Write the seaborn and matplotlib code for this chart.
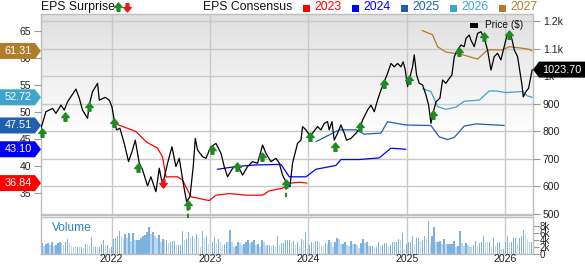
import numpy as np
import pandas as pd
import matplotlib
matplotlib.use("Agg")
import matplotlib.pyplot as plt
import seaborn as sns
from matplotlib.path import Path
from matplotlib.patches import Polygon, Rectangle
from matplotlib.lines import Line2D
from matplotlib.colors import LinearSegmentedColormap
import matplotlib.transforms as mtransforms

# ---------------- data ----------------
price_t = [2021.283, 2021.333, 2021.400, 2021.435, 2021.486, 2021.519, 2021.553, 2021.638, 2021.672, 2021.705,
           2021.756, 2021.773, 2021.807, 2021.858, 2021.875, 2021.936, 2021.977, 2022.004, 2022.027, 2022.051,
           2022.085, 2022.129, 2022.173, 2022.213, 2022.241, 2022.282, 2022.315, 2022.366, 2022.400, 2022.451,
           2022.485, 2022.518, 2022.569, 2022.614, 2022.654, 2022.688, 2022.729, 2022.762, 2022.797, 2022.830,
           2022.851, 2022.874, 2022.925, 2022.959, 2023.010, 2023.061, 2023.112, 2023.145, 2023.179, 2023.230,
           2023.280, 2023.331, 2023.382, 2023.433, 2023.484, 2023.535, 2023.569, 2023.620, 2023.671, 2023.704,
           2023.738, 2023.789, 2023.813, 2023.839, 2023.890, 2023.925, 2023.941, 2023.976, 2024.009, 2024.043,
           2024.093, 2024.128, 2024.162, 2024.195, 2024.212, 2024.240, 2024.263, 2024.297, 2024.331, 2024.365,
           2024.388, 2024.433, 2024.484, 2024.524, 2024.551, 2024.602, 2024.636, 2024.670, 2024.703, 2024.738,
           2024.771, 2024.805, 2024.839, 2024.873, 2024.907, 2024.941, 2024.964, 2024.985, 2025.008, 2025.033,
           2025.059, 2025.076, 2025.100, 2025.127, 2025.161, 2025.195, 2025.222, 2025.246, 2025.262, 2025.297,
           2025.337, 2025.364, 2025.398, 2025.432, 2025.459, 2025.483, 2025.516, 2025.551, 2025.584, 2025.602,
           2025.635, 2025.652, 2025.686, 2025.720, 2025.754, 2025.788, 2025.821, 2025.856, 2025.889, 2025.923,
           2025.957, 2025.991, 2026.024, 2026.059, 2026.093, 2026.126, 2026.150, 2026.171, 2026.184, 2026.211,
           2026.238, 2026.275]
price_v = [811, 871, 883, 865, 895, 877, 907, 953, 920, 877,
           847, 895, 944, 974, 913, 923, 913, 889, 841, 805,
           811, 756, 690, 732, 768, 684, 660, 602, 635, 581,
           666, 605, 684, 744, 672, 702, 611, 545, 563, 672,
           774, 732, 708, 702, 744, 756, 720, 672, 635, 666,
           678, 641, 672, 690, 684, 750, 720, 690, 702, 685,
           641, 605, 599, 684, 756, 768, 817, 805, 787, 793,
           817, 805, 829, 835, 805, 835, 768, 793, 823, 793,
           768, 774, 793, 811, 841, 877, 895, 871, 913, 950,
           980, 1010, 1046, 1034, 1046, 1034, 1052, 1022, 962, 998,
           1034, 1077, 1004, 974, 968, 932, 895, 829, 859, 907,
           920, 986, 974, 992, 1004, 1071, 1095, 1113, 1107, 1137,
           1149, 1131, 1107, 1155, 1161, 1137, 1095, 1022, 1071, 1083,
           1059, 1107, 1155, 1149, 1095, 1071, 1016, 968, 925, 944,
           956, 1023.70]

eps23_t = [2022.027, 2022.248, 2022.350, 2022.467, 2022.518, 2022.553, 2022.671, 2022.722, 2022.807, 2022.993,
           2023.061, 2023.196, 2023.366, 2023.535, 2023.603, 2023.738, 2023.806, 2023.908, 2023.986]
eps23_v = [47.9, 46.4, 44.5, 43.3, 41.7, 38.0, 38.0, 37.4, 34.3, 33.6,
           34.6, 34.9, 34.6, 34.6, 35.4, 35.9, 36.8, 37.0, 36.84]
eps24_t = [2023.077, 2023.264, 2023.467, 2023.722, 2023.806, 2023.976, 2024.077, 2024.280, 2024.331, 2024.517,
           2024.720, 2024.839, 2024.992]
eps24_v = [39.4, 39.9, 40.2, 40.3, 38.0, 38.0, 39.4, 40.1, 41.2, 41.2, 41.5, 43.3, 43.10]
eps25_t = [2024.077, 2024.314, 2024.484, 2024.568, 2024.738, 2024.805, 2024.992, 2025.246, 2025.330, 2025.415,
           2025.483, 2025.584, 2025.703, 2025.991]
eps25_v = [44.5, 46.7, 46.7, 45.9, 46.1, 48.2, 47.6, 47.5, 45.4, 44.9, 45.3, 47.4, 47.8, 47.51]
eps26_t = [2025.161, 2025.246, 2025.313, 2025.398, 2025.500, 2025.584, 2025.737, 2025.838, 2025.906, 2026.008,
           2026.177, 2026.224, 2026.275]
eps26_v = [54.3, 53.8, 51.0, 50.5, 50.9, 52.0, 52.2, 53.9, 53.9, 53.6, 53.8, 53.0, 52.72]
eps27_t = [2025.155, 2025.262, 2025.313, 2025.398, 2025.551, 2025.720, 2025.821, 2025.974, 2026.042, 2026.177,
           2026.245, 2026.275]
eps27_v = [65.1, 64.3, 62.1, 61.1, 60.7, 59.8, 61.5, 61.5, 62.1, 61.8, 61.6, 61.31]

surprise_t = [2021.293, 2021.526, 2021.773, 2022.027, 2022.271, 2022.525, 2022.772, 2023.020, 2023.270, 2023.524,
              2023.772, 2024.019, 2024.273, 2024.524, 2024.771, 2025.025, 2025.262, 2025.526, 2025.780, 2026.035]
surprise_p = [793, 853, 887, 829, 666, 614, 533, 732, 672, 708,
              609, 780, 744, 814, 972, 986, 859, 1087, 1143, 1149]
surprise_dir = ['up', 'up', 'up', 'up', 'up', 'down', 'up', 'up', 'up', 'up',
                'up', 'up', 'up', 'up', 'up', 'up', 'up', 'up', 'up', 'up']
surprise_dashed = [False, False, False, False, False, False, True, False, False, False,
                   True, False, False, False, False, False, False, False, False, False]

vol_a = [3.0, 2.4, 2.8, 3.0, 2.6, 3.3, 2.4, 2.6, 3.0, 3.5, 3.0, 2.6, 3.3, 4.2, 3.0, 2.3, 2.1, 1.9, 2.1, 1.9,
         2.1, 1.6, 2.9, 2.8, 2.6, 4.8, 2.1, 2.1, 1.9, 2.1, 2.8, 4.0, 2.4, 2.6, 1.8, 1.9, 4.3, 4.7, 5.2, 6.6,
         5.2, 4.3, 5.6, 4.5, 5.9, 3.7, 5.9, 4.0, 4.0, 4.0, 4.5, 5.0, 5.4, 6.4, 7.6, 5.6, 6.2, 5.2, 4.5, 5.4,
         3.5, 4.3]
vol_b = [4.0, 4.0, 3.0, 3.3, 3.7, 3.7, 2.6, 2.6, 2.6, 6.6, 4.0, 4.3, 6.2, 4.7, 5.0, 4.5, 5.7, 4.7, 2.1, 6.6,
         4.7, 5.0, 2.9, 1.6, 3.5, 4.8, 3.0, 4.3, 3.5, 2.6, 2.8, 3.5, 3.3, 6.9, 3.3, 2.1, 2.4, 3.3, 3.0, 2.6,
         2.9, 3.3, 4.0, 3.0, 3.5, 4.0, 2.6, 2.8, 2.1, 4.0, 3.3, 2.6, 2.6, 2.6, 2.4, 2.6, 1.9, 5.2, 2.6, 3.0,
         3.0, 4.0]
vol_c = [4.0, 4.0, 3.3, 3.7, 2.6, 3.5, 2.1, 4.3, 4.0, 6.2, 1.6, 2.6, 3.3, 3.0, 3.7, 3.7, 3.3, 2.6, 2.4, 3.0,
         2.8, 4.0, 3.3, 1.9, 3.3, 4.7, 4.3, 2.8, 2.8, 3.3, 2.6, 2.4, 3.7, 2.8, 2.8, 2.6, 1.6, 3.0, 4.3, 3.0,
         3.3, 2.3, 2.3, 2.3, 2.1, 2.1, 3.3, 2.4, 2.6, 3.0, 3.0, 2.4, 2.6, 3.3, 3.3, 3.5, 4.3, 4.0, 5.9, 1.4,
         2.8, 3.5]
vol_d = [3.5, 5.2, 2.8, 4.5, 4.7, 3.7, 4.0, 5.2, 4.7, 9.4, 3.0, 5.2, 7.8, 3.3, 3.5, 3.7, 2.8, 4.3, 2.8, 2.8,
         2.8, 2.8, 3.7, 2.1, 2.4, 6.6, 3.0, 2.4, 3.0, 2.6, 2.1, 1.9, 2.6, 3.7, 2.4, 3.0, 3.3, 5.0, 3.5, 3.3,
         3.5, 2.1, 4.7, 2.4, 3.0, 3.5, 1.4, 1.4, 3.5, 5.2, 3.5, 3.5, 4.7, 4.7, 3.0, 4.5, 5.0, 6.9, 5.6, 4.3,
         3.5, 3.5]

price_ticks = [500, 600, 700, 800, 900, 1000, 1100, 1200]
price_labels = ['500', '600', '700', '800', '900', '1k', '1.1k', '1.2k']
eps_ticks = [35, 40, 45, 50, 55, 60, 65]
vol_ticks = [0, 2, 4, 6, 8]
vol_labels = ['0', '2k', '4k', '6k', '8k']
year_ticks = [2022, 2023, 2024, 2025, 2026]
fy_names = ['2023', '2024', '2025', '2026', '2027']

# ---------------- style ----------------
sns.set_theme(style="white")
plt.rcParams['font.family'] = ['Liberation Sans', 'DejaVu Sans']

W, H = 585, 264
L, R = 41, 533
TOP, PB = 14, 215
VT, VB = 217, 254
XMIN, XMAX = 2021.283, 2026.283
P_LIM = (496.4, 1225.4)
E_LIM = (30.93, 68.15)
V_LIM = (0, 10.57)

fy_colors = ['#ff0000', '#0000ff', '#1f5fae', '#3fa3cc', '#b07d2b']
GRID = '#c9c9c9'
SPINE = '#bdbdbd'
GREEN = '#1f8a1f'
RED = '#e81818'

fig = plt.figure(figsize=(W / 100, H / 100), dpi=100)
rect_p = [L / W, 1 - PB / H, (R - L) / W, (PB - TOP) / H]
rect_v = [L / W, 1 - VB / H, (R - L) / W, (VB - VT) / H]

bg = fig.add_axes(rect_p, zorder=1)
ax_e = fig.add_axes(rect_p, zorder=2)
ax_p = fig.add_axes(rect_p, zorder=3)
ax_v = fig.add_axes(rect_v, zorder=1)

# background gradient + grid
cmap = LinearSegmentedColormap.from_list('g', [(0, '#e0e0e0'), (0.6, '#ffffff'), (1, '#ffffff')])
grad = np.linspace(0, 1, 256).reshape(-1, 1)
bg.imshow(grad, cmap=cmap, aspect='auto', extent=[0, 1, 0, 1], transform=bg.transAxes,
          origin='upper', zorder=0)
bg.set_xlim(XMIN, XMAX)
bg.set_ylim(*P_LIM)
bg.set_xticks(year_ticks)
bg.set_yticks(price_ticks)
bg.grid(True, color=GRID, lw=1.0)
bg.tick_params(left=False, bottom=False, labelleft=False, labelbottom=False)
for s in bg.spines.values():
    s.set_color(SPINE)
    s.set_linewidth(1.0)

# EPS consensus lines
eps_frames = []
for name, t, v in zip(fy_names, [eps23_t, eps24_t, eps25_t, eps26_t, eps27_t],
                      [eps23_v, eps24_v, eps25_v, eps26_v, eps27_v]):
    eps_frames.append(pd.DataFrame({'t': t, 'eps': v, 'fy': name}))
eps_df = pd.concat(eps_frames, ignore_index=True)
sns.lineplot(data=eps_df, x='t', y='eps', hue='fy', palette=dict(zip(fy_names, fy_colors)),
             estimator=None, sort=False, legend=False, lw=0.9, ax=ax_e)
ax_e.set_xlim(XMIN, XMAX)
ax_e.set_ylim(*E_LIM)
ax_e.patch.set_visible(False)
ax_e.set_xlabel('')
ax_e.set_ylabel('')
ax_e.set_xticks([])
ax_e.set_yticks(eps_ticks)
ax_e.set_yticklabels([str(v) for v in eps_ticks])
ax_e.yaxis.tick_left()
ax_e.tick_params(axis='y', left=True, length=5, width=0.8, color='#9a9a9a', labelsize=7.5,
                 labelcolor='#222222', pad=2)
for s in ax_e.spines.values():
    s.set_visible(False)

# price line
sns.lineplot(x=price_t, y=price_v, color='black', lw=0.9, estimator=None, sort=False, ax=ax_p)
ax_p.set_xlim(XMIN, XMAX)
ax_p.set_ylim(*P_LIM)
ax_p.patch.set_visible(False)
ax_p.set_xticks([])
ax_p.yaxis.tick_right()
ax_p.set_yticks(price_ticks)
ax_p.set_yticklabels(price_labels)
ax_p.tick_params(axis='y', right=True, length=5, width=0.8, color='#9a9a9a', labelsize=7.5,
                 labelcolor='#222222', pad=2)
for s in ax_p.spines.values():
    s.set_visible(False)

# surprise arrows
up_verts = [(-1, 0), (0, 1.2), (1, 0), (0.38, 0), (0.38, -1), (-0.38, -1), (-0.38, 0), (-1, 0)]
up_codes = [Path.MOVETO] + [Path.LINETO] * 6 + [Path.CLOSEPOLY]
UP = Path(up_verts, up_codes)
DOWN = Path([(x, -y) for x, y in up_verts], up_codes)
for t, p, d, dash in zip(surprise_t, surprise_p, surprise_dir, surprise_dashed):
    col = GREEN if d == 'up' else RED
    ax_p.plot([t], [p], marker=UP if d == 'up' else DOWN, ms=6.5, color=col, mec=col, ls='none',
              zorder=5, clip_on=False)
    if dash:
        ax_p.vlines(t, p - 46, p - 14, colors=col, linestyles=(0, (2, 1.5)), lw=1.5, clip_on=False, zorder=5)

# volume
n = len(vol_a) + len(vol_b) + len(vol_c) + len(vol_d)
vols = np.array(vol_a + vol_b + vol_c + vol_d)
vx = np.linspace(2021.293, 2026.265, n)
step = vx[1] - vx[0]
vcol = ['#7db1e0' if (i == 0 or vols[i] >= vols[i - 1]) else '#bdd7f0' for i in range(n)]
ax_v.bar(vx, vols, width=step * 0.7, color=vcol, lw=0, zorder=2)
ax_v.set_xlim(XMIN, XMAX)
ax_v.set_ylim(*V_LIM)
ax_v.set_facecolor('white')
ax_v.set_xticks(year_ticks)
ax_v.set_xticklabels([])
ax_v.grid(True, axis='x', color=GRID, lw=1.0, zorder=0)
ax_v.yaxis.tick_right()
ax_v.set_yticks(vol_ticks)
ax_v.set_yticklabels(vol_labels)
ax_v.tick_params(axis='y', right=True, length=4, width=0.8, color='#9a9a9a', labelsize=7,
                 labelcolor='#222222', pad=1)
ax_v.tick_params(axis='x', bottom=False, length=0)
for s in ax_v.spines.values():
    s.set_color(SPINE)
    s.set_linewidth(1.0)
ax_v.text(0.022, 0.7, 'Volume', transform=ax_v.transAxes, fontsize=8.6, color='#2f7fc1',
          va='center', ha='left')
xlab_tr = mtransforms.blended_transform_factory(ax_v.transData, fig.transFigure)
for yr in year_ticks:
    ax_v.text(yr, 1 - 259.5 / H, str(yr), transform=xlab_tr, fontsize=7.6, color='#222222',
              ha='center', va='center', clip_on=False)

# ---------------- legend / header ----------------
def T(px, py):
    return px / W, 1 - py / H

fig.text(*T(41, 10), 'EPS Surprise', fontsize=8.8, color='#111111', va='baseline')
fig.add_artist(Line2D([T(118, 7)[0]], [T(118, 7)[1]], marker=UP, ms=6.5, color=GREEN, ls='none',
                      transform=fig.transFigure))
fig.add_artist(Line2D([T(127, 7)[0]], [T(127, 7)[1]], marker=DOWN, ms=6.5, color=RED, ls='none',
                      transform=fig.transFigure))
fig.text(*T(203, 10), 'EPS Consensus', fontsize=8.8, color='#111111', va='baseline')
for sx, name, col in zip([303, 352, 401, 450, 499], fy_names, fy_colors):
    fig.add_artist(Rectangle(T(sx, 11.5), 6.5 / W, 6.5 / H, transform=fig.transFigure,
                             color=col, lw=0))
    fig.text(*T(sx + 11, 10), name, fontsize=8.8, color=col, va='baseline')

# price legend in plot
fig.add_artist(Rectangle(T(470, 27.5), 8 / W, 5 / H, transform=fig.transFigure, color='black', lw=0,
                         zorder=10))
fig.text(*T(485, 25.5), 'Price ($)', fontsize=7.3, color='#111111', va='center', zorder=10)

# ---------------- value badges ----------------
fig.canvas.draw()
ident = mtransforms.IdentityTransform()
for vals, col in zip([eps23_v, eps24_v, eps25_v, eps26_v, eps27_v], fy_colors):
    v = vals[-1]
    Y = ax_e.transData.transform((XMIN, v))[1]
    verts = [(0, Y + 8), (35, Y + 8), (41, Y), (35, Y - 8), (0, Y - 8)]
    fig.add_artist(Polygon(verts, closed=True, transform=ident, color=col, lw=0, zorder=10))
    fig.text(18 / W, Y / H, f'{v:.2f}', fontsize=7.8, color='white', ha='center', va='center', zorder=11)

pv = price_v[-1]
Y = ax_p.transData.transform((XMAX, pv))[1]
verts = [(533, Y), (539, Y + 8), (585, Y + 8), (585, Y - 8), (539, Y - 8)]
fig.add_artist(Polygon(verts, closed=True, transform=ident, color='black', lw=0, zorder=10))
fig.text(562 / W, Y / H, f'{pv:.2f}', fontsize=7.8, color='white', ha='center', va='center', zorder=11)

fig.savefig('out.png', dpi=100)
